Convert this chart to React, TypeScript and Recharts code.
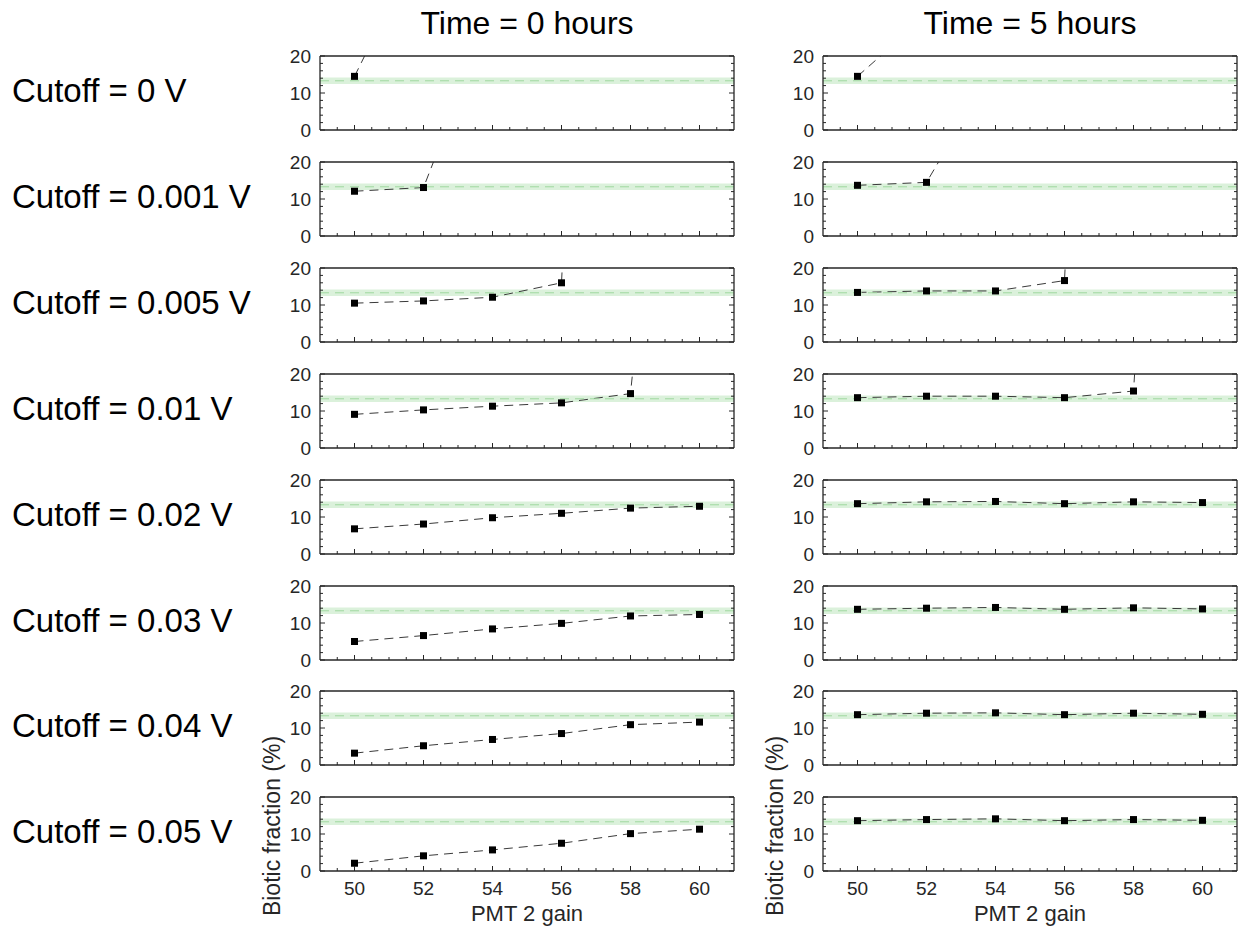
import React from "react";
import { LineChart, Line, XAxis, YAxis, ReferenceArea, ReferenceLine } from "recharts";

// PMT 2 gain settings (x values)
const GAIN = [50, 52, 54, 56, 58, 60];
const CUTOFF_LABELS = [
  "Cutoff = 0 V",
  "Cutoff = 0.001 V",
  "Cutoff = 0.005 V",
  "Cutoff = 0.01 V",
  "Cutoff = 0.02 V",
  "Cutoff = 0.03 V",
  "Cutoff = 0.04 V",
  "Cutoff = 0.05 V",
];
const TIME_LABELS = ["Time = 0 hours", "Time = 5 hours"];

// biotic fraction (%) at time 0; values above 20 run off the top of the axes
const T0_CUT_0 = [14.5, 52];
const T0_CUT_0001 = [12.1, 13.1, 61];
const T0_CUT_0005 = [10.5, 11.1, 12.1, 16.0, 400];
const T0_CUT_001 = [9.1, 10.3, 11.3, 12.2, 14.7, 200];
const T0_CUT_002 = [6.8, 8.1, 9.8, 11.0, 12.4, 12.9];
const T0_CUT_003 = [5.0, 6.6, 8.4, 9.9, 11.9, 12.3];
const T0_CUT_004 = [3.2, 5.2, 6.9, 8.5, 10.9, 11.6];
const T0_CUT_005 = [2.1, 4.1, 5.7, 7.5, 10.1, 11.3];

// biotic fraction (%) at time 5 h
const T5_CUT_0 = [14.5, 31];
const T5_CUT_0001 = [13.7, 14.5, 46];
const T5_CUT_0005 = [13.4, 13.8, 13.8, 16.6, 400];
const T5_CUT_001 = [13.6, 14.0, 14.0, 13.6, 15.4, 300];
const T5_CUT_002 = [13.6, 14.1, 14.2, 13.6, 14.1, 13.9];
const T5_CUT_003 = [13.7, 14.0, 14.2, 13.7, 14.1, 13.8];
const T5_CUT_004 = [13.6, 14.0, 14.1, 13.6, 14.0, 13.7];
const T5_CUT_005 = [13.6, 13.9, 14.1, 13.6, 13.9, 13.7];

const TIME0 = [T0_CUT_0, T0_CUT_0001, T0_CUT_0005, T0_CUT_001, T0_CUT_002, T0_CUT_003, T0_CUT_004, T0_CUT_005];
const TIME5 = [T5_CUT_0, T5_CUT_0001, T5_CUT_0005, T5_CUT_001, T5_CUT_002, T5_CUT_003, T5_CUT_004, T5_CUT_005];

// reference band (true biotic fraction)
const BAND_LOW = 12.4;
const BAND_MID = 13.3;
const BAND_HIGH = 14.2;

const X_DOMAIN = [49, 61];
const Y_DOMAIN = [0, 20];
const X_TICKS = [49.5, 50, 50.5, 51, 51.5, 52, 52.5, 53, 53.5, 54, 54.5, 55, 55.5, 56, 56.5, 57, 57.5, 58, 58.5, 59, 59.5, 60, 60.5];
const Y_TICKS = [0, 2, 4, 6, 8, 10, 12, 14, 16, 18, 20];

const INK = "#262626";
const FONT = "'Liberation Sans', Arial, sans-serif";
const PLOT_LEFT = [320, 823];
const PLOT_W = 414;
const PLOT_H = 74;
const ROW_TOP = 56;
const ROW_PITCH = 105.9;
const AXIS_L = 60;
const AXIS_R = 10;

const axisLine = { stroke: INK, strokeWidth: 1.3 };

function BottomTick(props: any) {
  const { x, y, payload, showLabel } = props;
  const major = payload.value % 2 === 0;
  return (
    <g>
      <line x1={x} x2={x} y1={y} y2={y - (major ? 5 : 3)} stroke={INK} strokeWidth={1} />
      {major && showLabel && (
        <text x={x} y={y + 24} textAnchor="middle" fontSize={19} fill={INK} fontFamily={FONT}>
          {payload.value}
        </text>
      )}
    </g>
  );
}

function TopTick(props: any) {
  const { x, y, payload } = props;
  const major = payload.value % 2 === 0;
  return <line x1={x} x2={x} y1={y} y2={y + (major ? 5 : 3)} stroke={INK} strokeWidth={1} />;
}

function LeftTick(props: any) {
  const { x, y, payload } = props;
  const major = payload.value % 10 === 0;
  return (
    <g>
      <line x1={x} x2={x + (major ? 5 : 3)} y1={y} y2={y} stroke={INK} strokeWidth={1} />
      {major && (
        <text x={x - 9} y={y} dy="0.36em" textAnchor="end" fontSize={19} fill={INK} fontFamily={FONT}>
          {payload.value}
        </text>
      )}
    </g>
  );
}

function RightTick(props: any) {
  const { x, y, payload } = props;
  const major = payload.value % 10 === 0;
  return <line x1={x} x2={x - (major ? 5 : 3)} y1={y} y2={y} stroke={INK} strokeWidth={1} />;
}

function YLabel(props: any) {
  const { viewBox } = props;
  if (!viewBox) return null;
  const cx = viewBox.x + 12;
  const cy = viewBox.y + viewBox.height / 2 - 8;
  return (
    <text
      x={cx}
      y={cy}
      dy="0.36em"
      textAnchor="middle"
      transform={`rotate(-90, ${cx}, ${cy})`}
      fontSize={23}
      fill={INK}
      fontFamily={FONT}
    >
      Biotic fraction (%)
    </text>
  );
}

function XLabel(props: any) {
  const { viewBox } = props;
  if (!viewBox) return null;
  return (
    <text
      x={viewBox.x + viewBox.width / 2}
      y={viewBox.y + 50}
      textAnchor="middle"
      fontSize={22}
      fill={INK}
      fontFamily={FONT}
    >
      PMT 2 gain
    </text>
  );
}

function Square(props: any) {
  const { cx, cy, index } = props;
  return <rect key={index} x={cx - 3.5} y={cy - 3.5} width={7} height={7} fill="#000" />;
}

function Panel({ values, col, row, last }: { values: number[]; col: number; row: number; last: boolean }) {
  const data = values.map((v, i) => ({ gain: GAIN[i], frac: v }));
  const padT = last ? 60 : 10;
  const padB = last ? 60 : 10;
  const top = ROW_TOP + row * ROW_PITCH - padT;
  const left = PLOT_LEFT[col] - AXIS_L;
  return (
    <div style={{ position: "absolute", left, top }}>
      <LineChart
        width={AXIS_L + PLOT_W + AXIS_R}
        height={padT + PLOT_H + padB}
        data={data}
        margin={{ top: 0, right: 0, bottom: 0, left: 0 }}
      >
        <XAxis
          xAxisId="b"
          dataKey="gain"
          type="number"
          domain={X_DOMAIN}
          ticks={X_TICKS}
          interval={0}
          height={padB}
          tickSize={0}
          tickMargin={0}
          tickLine={false}
          axisLine={axisLine}
          allowDataOverflow
          tick={(p: any) => <BottomTick {...p} showLabel={last} />}
          label={last ? { position: "insideBottom", content: (p: any) => <XLabel {...p} /> } : undefined}
        />
        <XAxis
          xAxisId="t"
          orientation="top"
          type="number"
          domain={X_DOMAIN}
          ticks={X_TICKS}
          interval={0}
          height={padT}
          tickSize={0}
          tickMargin={0}
          tickLine={false}
          axisLine={axisLine}
          allowDataOverflow
          tick={(p: any) => <TopTick {...p} />}
        />
        <YAxis
          yAxisId="l"
          type="number"
          domain={Y_DOMAIN}
          ticks={Y_TICKS}
          interval={0}
          width={AXIS_L}
          tickSize={0}
          tickMargin={0}
          tickLine={false}
          axisLine={axisLine}
          allowDataOverflow
          tick={(p: any) => <LeftTick {...p} />}
          label={last ? { position: "insideLeft", content: (p: any) => <YLabel {...p} /> } : undefined}
        />
        <YAxis
          yAxisId="r"
          orientation="right"
          type="number"
          domain={Y_DOMAIN}
          ticks={Y_TICKS}
          interval={0}
          width={AXIS_R}
          tickSize={0}
          tickMargin={0}
          tickLine={false}
          axisLine={axisLine}
          allowDataOverflow
          tick={(p: any) => <RightTick {...p} />}
        />
        <Line
          xAxisId="b"
          yAxisId="l"
          dataKey="frac"
          type="linear"
          stroke="#3a3a3a"
          strokeWidth={1}
          strokeDasharray="9 6"
          dot={(p: any) => <Square {...p} />}
          activeDot={false}
          isAnimationActive={false}
        />
        <ReferenceArea
          xAxisId="b"
          yAxisId="l"
          y1={BAND_LOW}
          y2={BAND_HIGH}
          fill="#4cbb4c"
          fillOpacity={0.2}
          stroke="none"
        />
        <ReferenceLine xAxisId="b" yAxisId="l" y={BAND_MID} stroke="#9fd89f" strokeWidth={1} strokeDasharray="9 6" />
      </LineChart>
    </div>
  );
}

export default function App() {
  return (
    <div style={{ position: "absolute", left: 0, top: 0, width: 1238, height: 932, background: "#fff", fontFamily: FONT }}>
      {TIME_LABELS.map((t, c) => (
        <div
          key={t}
          style={{
            position: "absolute",
            left: PLOT_LEFT[c],
            width: PLOT_W,
            top: 22.5 - 16,
            textAlign: "center",
            fontSize: 32,
            lineHeight: "32px",
            color: "#000",
          }}
        >
          {t}
        </div>
      ))}
      {CUTOFF_LABELS.map((label, r) => (
        <div
          key={label}
          style={{
            position: "absolute",
            left: 12,
            top: ROW_TOP + r * ROW_PITCH + PLOT_H / 2 - 2.5 - 16.5,
            fontSize: 33,
            lineHeight: "33px",
            color: "#000",
            whiteSpace: "nowrap",
          }}
        >
          {label}
        </div>
      ))}
      {TIME0.map((vals, r) => (
        <Panel key={"t0-" + r} values={vals} col={0} row={r} last={r === TIME0.length - 1} />
      ))}
      {TIME5.map((vals, r) => (
        <Panel key={"t5-" + r} values={vals} col={1} row={r} last={r === TIME5.length - 1} />
      ))}
    </div>
  );
}
